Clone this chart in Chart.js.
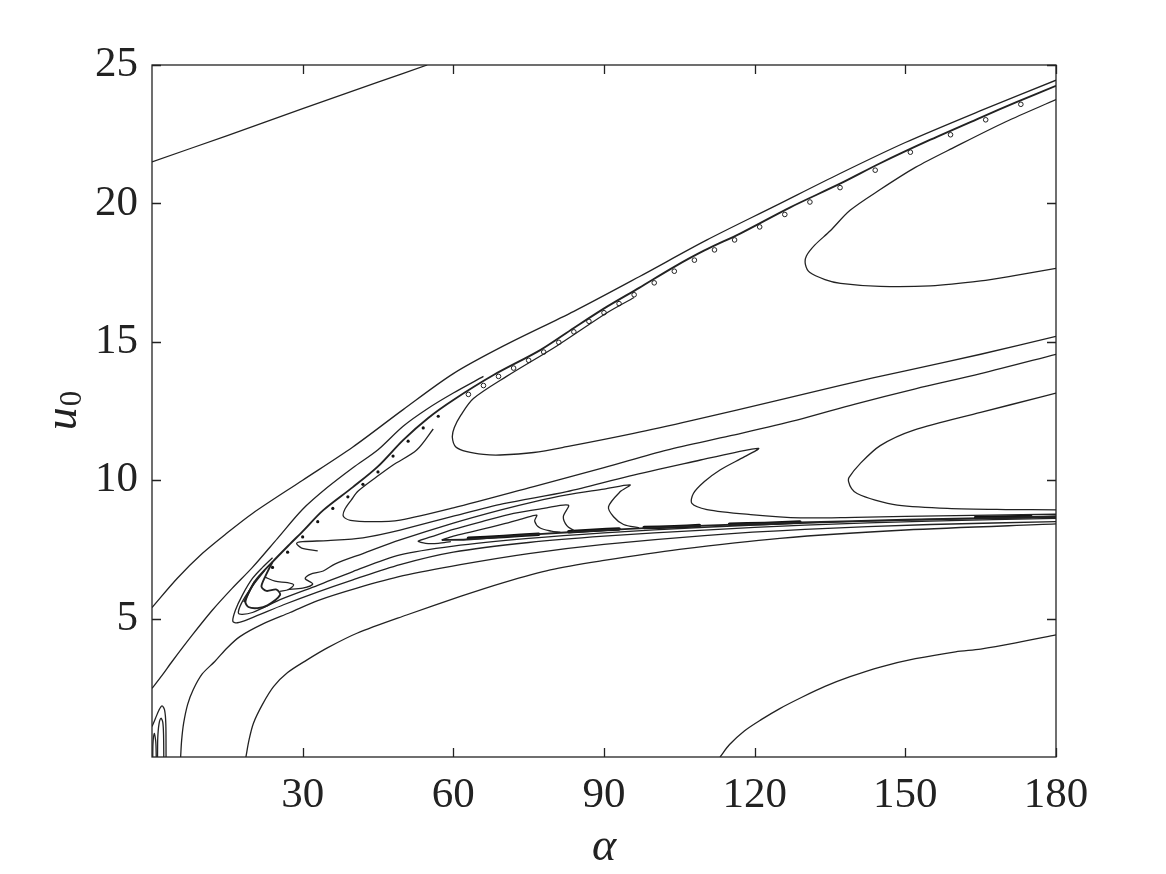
<!DOCTYPE html>
<html lang="en">
<head>
<meta charset="UTF-8">
<title>u0 - alpha contours</title>
<script src="https://cdn.jsdelivr.net/npm/chart.js@4.4.0/dist/chart.umd.min.js"></script>
<style>
    html, body { margin: 0; padding: 0; background: #fff; }
    #wrap { width: 1166px; height: 874px; }
</style>
</head>
<body>
<div id="wrap"><canvas id="contourChart" width="1166" height="874"></canvas></div>
<script>
// axis ticks
const xTicks = [30, 60, 90, 120, 150, 180];
const yTicks = [5, 10, 15, 20, 25];

// contour lines as [alpha, u0] pairs
const lineA = [[0,21.5],[15,22.45],[30,23.42],[45,24.38],[54.8,25.0]];
const lineB = [[0,5.4],[5,6.45],[10,7.35],[15,8.1],[20,8.8],[30,10.0],[40,11.2],[50,12.55],[60,13.85],[70,14.85],[84,16.1],[97,17.35],[110.5,18.68],[124,19.9],[137,21.08],[150,22.2],[165,23.35],[180,24.45]];
const lineC = [[0,2.48],[2,2.95],[4,3.45],[8,4.4],[12,5.3],[16,6.1],[20,6.85],[25,7.9],[30,8.95],[35,9.75],[40,10.45],[45,11.1],[50,11.95],[55,12.6],[60,13.15],[66,13.75]];
const lineW = [[18.3,5.6],[20.5,6.35],[24,7.05],[27.5,7.7],[30,8.15],[34,8.9],[40,9.75],[45,10.5],[50,11.45],[55,12.25],[60,12.9],[68,13.8],[77.3,14.7],[84,15.5],[90.6,16.27],[97,16.95],[103.9,17.7],[110,18.3],[117.2,18.92],[127,19.85],[137.1,20.72],[145,21.45],[155,22.3],[165,23.1],[172,23.65],[180,24.25]];
const apexLoop = [[20.5,6.35],[19.3,5.95],[18.6,5.6],[19.2,5.42],[21,5.38],[23,5.48],[25.5,5.85],[24.8,6.05],[22.8,6.0],[21.8,6.15],[22.5,6.5],[24,7.05]];
const lineO1 = [[24,7.2],[22,6.85],[20,6.45],[18,5.85],[16.6,5.3],[16.1,4.9],[17,4.85],[19.5,5.0],[26.2,5.5],[32.8,5.95],[40,6.4],[49.4,6.95],[60,7.4],[75,7.75],[90,7.98],[110,8.2],[130,8.38],[155,8.52],[180,8.62]];
const lineO2 = [[22.5,6.75],[19.5,6.05],[17.8,5.55],[17.2,5.2],[18,5.15],[20,5.22],[26,5.72],[33,6.2],[40,6.7],[49.4,7.3],[60,7.62],[75,7.9],[90,8.1],[110,8.3],[130,8.45],[155,8.58],[180,8.66]];
const lineM = [[5.7,0],[5.9,0.6],[6.3,1.22],[7.1,1.9],[8.2,2.43],[10,3.0],[12.5,3.45],[15,3.95],[17.5,4.35],[22,4.8],[27.5,5.22],[33,5.65],[40.8,6.1],[50,6.55],[61.4,6.95],[75,7.35],[90,7.68],[110,8.0],[130,8.22],[155,8.4],[180,8.5]];
const lineN = [[18.7,0],[19.3,0.6],[20.2,1.22],[22,1.9],[24.2,2.54],[27,3.05],[30.8,3.5],[35,3.95],[40.8,4.47],[50.7,5.13],[61.4,5.8],[70,6.3],[79.3,6.76],[90,7.1],[105,7.5],[125,7.9],[150,8.2],[180,8.42]];
const lineP = [[113.1,0],[115,0.45],[118,0.95],[121.3,1.35],[125,1.75],[129.3,2.15],[134,2.55],[139,2.9],[145,3.25],[152,3.55],[160,3.8],[165,3.9],[172,4.12],[180,4.41]];
const bandLow = [[57.7,7.84],[62.6,7.86],[71.3,7.98],[81.3,8.1],[95,8.24],[110,8.36],[129,8.47],[150,8.57],[165,8.63],[175,8.67],[180,8.7]];
const loopK = [[57.7,7.84],[60,7.98],[64,8.15],[70,8.42],[74,8.62],[76.6,8.74],[76.2,8.52],[77.2,8.28],[79.5,8.16],[81.3,8.12]];
const loopJ = [[84,8.18],[82.6,8.36],[81.9,8.68],[82.9,9.1],[78,8.98],[72,8.8],[66,8.52],[60,8.22],[55.5,7.95],[53,7.8],[54.5,7.72],[57,7.72],[59.5,7.78]];
const loopI = [[97,8.28],[93.9,8.4],[91.9,8.68],[90.9,9.04],[93.2,9.58],[95.2,9.83],[90,9.68],[82.6,9.47],[76,9.22],[69.3,8.92],[60,8.45],[49.4,7.84],[42,7.35],[36.5,6.98],[34.1,6.72],[31.5,6.6],[30.5,6.45],[32,6.25],[30,6.1],[27,6.05]];
const loopH = [[180,8.77],[160,8.72],[140,8.66],[129.1,8.64],[119.2,8.76],[110.5,8.94],[107.5,9.16],[107.8,9.52],[110,9.95],[113.1,10.37],[118,10.85],[120.8,11.15],[116,11.0],[109.2,10.73],[95,10.15],[82.6,9.59],[70,9.15],[60,8.7],[49.4,8.2],[42,7.92],[35,7.82],[30,7.78],[28.8,7.72],[29.8,7.55],[33,7.45]];
const loopL2 = [[56,11.85],[52.7,11.09],[48,10.55],[44.8,10.13],[41,9.6],[39.7,9.29],[38.4,8.95],[38.1,8.7],[39.5,8.55],[44,8.5],[49.4,8.56],[60,9.0],[76,9.77],[90,10.45],[102.5,11.09],[115,11.6],[128.4,12.17],[140,12.75],[152,13.3],[165,13.85],[180,14.55]];
const loopG = [[96,16.6],[90.6,16.05],[80.6,14.85],[70.6,13.75],[64,12.95],[61.5,12.35],[60.2,11.9],[59.8,11.55],[60.5,11.2],[62.7,11.03],[66,10.93],[69.3,10.91],[76,11.0],[82.6,11.21],[95.9,11.69],[107.8,12.17],[125,12.9],[137.1,13.43],[150,13.95],[165,14.55],[180,15.2]];
const loopE = [[180,23.75],[170,22.95],[160,22.05],[152,21.3],[145,20.5],[139,19.75],[135,19.0],[132,18.5],[130.3,18.1],[130.1,17.8],[131,17.5],[134,17.25],[137.1,17.11],[145,17.0],[155,17.02],[165,17.2],[172,17.4],[180,17.65]];
const loopF = [[180,13.15],[176.9,13.0],[165,12.45],[151.7,11.81],[145,11.25],[141,10.6],[138.8,10.1],[138.7,9.95],[139.3,9.7],[140.4,9.52],[144,9.28],[148.4,9.1],[158.4,8.98],[170,8.94],[180,8.93]];
const cornerBig = [[0,1.1],[0.7,1.4],[1.4,1.7],[2.0,1.85],[2.5,1.7],[2.75,1.2],[2.8,0]];
const cornerSmall = [[1.1,0],[1.15,0.7],[1.4,1.2],[1.8,1.4],[2.15,1.25],[2.3,0.8],[2.35,0]];
const cornerTiny = [[0.15,0],[0.2,0.5],[0.45,0.85],[0.75,0.55],[0.85,0]];
const flagS = [[22.5,6.5],[24.5,6.35],[27,6.3],[28.2,6.22],[27.2,6.05],[25.5,5.98]];

// thick dark pieces of the lower band
const darkSegments = [
    [[63,7.9],[70,7.97],[77,8.05]],
    [[83,8.14],[88,8.19],[93,8.24]],
    [[98,8.29],[104,8.32],[109,8.36]],
    [[115,8.41],[122,8.44],[129,8.49]],
    [[164,8.65],[170,8.67],[175,8.69]]
];

// tiny closed contours along the upper band
const ringAlpha = [63,66,69,72,75,78,81,84,87,90,93,96,100,104,108,112,116,121,126,131,137,144,151,159,166,173];
const ringU = [13.1,13.42,13.75,14.05,14.33,14.63,14.98,15.36,15.74,16.05,16.38,16.7,17.13,17.55,17.95,18.32,18.68,19.15,19.6,20.05,20.57,21.2,21.85,22.48,23.02,23.58];
const speckAlpha = [24,27,30,33,36,39,42,45,48,51,54,57];
const speckU = [6.85,7.4,7.95,8.5,8.98,9.4,9.85,10.3,10.87,11.41,11.89,12.31];

const thinLines = [lineA, lineB, lineC, lineO1, lineO2, lineM, lineN, lineP, loopK, loopJ, loopI, loopH,
    loopL2, loopG, loopE, loopF, cornerBig, cornerSmall, cornerTiny, flagS];
const mediumLines = [lineW, bandLow, apexLoop];

const toXY = pts => pts.map(p => ({ x: p[0], y: p[1] }));
const ink = '#222222';

const datasets = [];
thinLines.forEach(pts => datasets.push({
    data: toXY(pts), showLine: true, borderColor: ink, borderWidth: 1.3,
    pointRadius: 0, tension: 0.3, fill: false
}));
mediumLines.forEach(pts => datasets.push({
    data: toXY(pts), showLine: true, borderColor: ink, borderWidth: 1.9,
    pointRadius: 0, tension: 0.3, fill: false
}));
darkSegments.forEach(pts => datasets.push({
    data: toXY(pts), showLine: true, borderColor: '#111', borderWidth: 3.5,
    pointRadius: 0, tension: 0.3, fill: false, borderCapStyle: 'round'
}));
datasets.push({
    data: ringAlpha.map((a, i) => ({ x: a, y: ringU[i] })),
    showLine: false, pointRadius: 2.3, pointStyle: 'circle',
    backgroundColor: 'rgba(0,0,0,0)', borderColor: ink, borderWidth: 1
});
datasets.push({
    data: speckAlpha.map((a, i) => ({ x: a, y: speckU[i] })),
    showLine: false, pointRadius: 1.6, backgroundColor: '#111', borderColor: '#111', borderWidth: 0
});

// box, inward ticks and axis titles
const framePlugin = {
    id: 'frame',
    afterDraw(chart) {
        const { ctx, chartArea: a, scales: { x, y } } = chart;
        ctx.save();
        ctx.strokeStyle = ink;
        ctx.lineWidth = 1.3;
        ctx.strokeRect(a.left, a.top, a.right - a.left, a.bottom - a.top);
        const len = 9;
        ctx.beginPath();
        xTicks.forEach(v => {
            const px = Math.round(x.getPixelForValue(v)) + 0.5;
            ctx.moveTo(px, a.bottom); ctx.lineTo(px, a.bottom - len);
            ctx.moveTo(px, a.top); ctx.lineTo(px, a.top + len);
        });
        yTicks.forEach(v => {
            const py = Math.round(y.getPixelForValue(v)) + 0.5;
            ctx.moveTo(a.left, py); ctx.lineTo(a.left + len, py);
            ctx.moveTo(a.right, py); ctx.lineTo(a.right - len, py);
        });
        ctx.stroke();

        ctx.fillStyle = ink;
        ctx.font = 'italic 46px "Liberation Serif", "DejaVu Serif", serif';
        ctx.textAlign = 'center';
        ctx.textBaseline = 'alphabetic';
        ctx.fillText('α', (a.left + a.right) / 2, 860);

        // y title: italic u with subscript 0, rotated
        ctx.translate(76, (a.top + a.bottom) / 2);
        ctx.rotate(-Math.PI / 2);
        ctx.textAlign = 'left';
        ctx.font = 'italic 46px "Liberation Serif", "DejaVu Serif", serif';
        const wu = ctx.measureText('u').width;
        ctx.font = '31px "Liberation Serif", "DejaVu Serif", serif';
        const w0 = ctx.measureText('0').width;
        const start = -(wu + w0) / 2;
        ctx.font = 'italic 46px "Liberation Serif", "DejaVu Serif", serif';
        ctx.fillText('u', start, 0);
        ctx.font = '31px "Liberation Serif", "DejaVu Serif", serif';
        ctx.fillText('0', start + wu + 1, 5);
        ctx.restore();
    }
};

const tickFont = { family: '"Liberation Serif", "Times New Roman", serif', size: 43 };

new Chart(document.getElementById('contourChart'), {
    type: 'scatter',
    data: { datasets: datasets },
    options: {
        responsive: false,
        animation: false,
        layout: { padding: { top: 65, right: 110, left: 0, bottom: 0 } },
        plugins: { legend: { display: false }, tooltip: { enabled: false } },
        scales: {
            x: {
                type: 'linear', min: 0, max: 180,
                afterBuildTicks: s => { s.ticks = xTicks.map(v => ({ value: v })); },
                afterFit: s => { s.height = 117; },
                grid: { display: false, drawTicks: false },
                border: { display: false },
                ticks: { font: tickFont, color: ink, padding: 13, maxRotation: 0 }
            },
            y: {
                type: 'linear', min: 0, max: 25,
                afterBuildTicks: s => { s.ticks = yTicks.map(v => ({ value: v })); },
                afterFit: s => { s.width = 152; },
                grid: { display: false, drawTicks: false },
                border: { display: false },
                ticks: { font: tickFont, color: ink, padding: 14 }
            }
        }
    },
    plugins: [framePlugin]
});
</script>
</body>
</html>
